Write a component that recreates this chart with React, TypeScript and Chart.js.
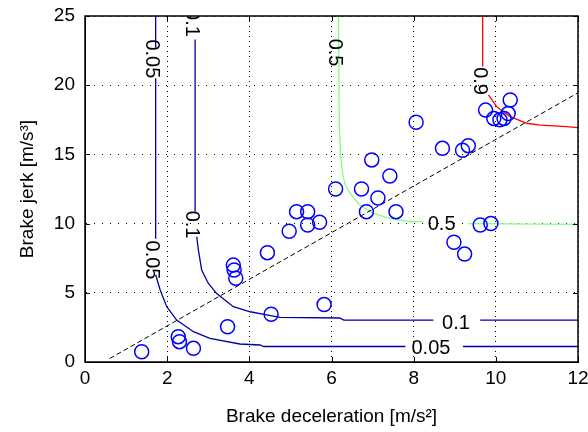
import React, { useEffect, useRef } from "react";
import { Chart, registerables } from "chart.js";

Chart.register(...registerables);

// ---- data ----
const xTickValues = [0, 2, 4, 6, 8, 10, 12];
const yTickValues = [0, 5, 10, 15, 20, 25];

const decel = [1.38, 2.27, 2.3, 2.64, 3.47, 3.61, 3.63, 3.67, 4.44, 4.53, 4.97, 5.15, 5.42, 5.42, 5.71, 5.82, 6.1, 6.73, 6.85, 6.98, 7.13, 7.42, 7.57, 8.06, 8.7, 9.19, 9.33, 8.98, 9.24, 9.62, 9.88, 9.75, 9.95, 10.1, 10.2, 10.3, 10.35];
const jerk = [0.74, 1.83, 1.47, 0.99, 2.55, 7.0, 6.65, 6.05, 7.9, 3.45, 9.45, 10.86, 10.86, 9.9, 10.1, 4.15, 12.5, 12.5, 10.86, 14.6, 11.85, 13.44, 10.86, 17.32, 15.44, 15.3, 15.63, 8.65, 7.8, 9.9, 10.0, 18.2, 17.6, 17.5, 17.6, 17.95, 18.93];

const trendX = [0.6, 12];
const trendY = [0.25, 19.45];

// contour 0.05 (segments broken at labels)
const c005a: number[][] = [[1.72, 25], [1.72, 22.7]];
const c005b: number[][] = [[1.72, 20.5], [1.72, 8.9]];
const c005c: number[][] = [[1.72, 6.3], [1.83, 5.2], [1.99, 4.0], [2.23, 3.03], [2.64, 2.19], [3.04, 1.71], [3.77, 1.3], [4.26, 1.23], [4.35, 1.12], [7.8, 1.12]];
const c005d: number[][] = [[9.2, 1.12], [12, 1.12]];
// contour 0.1
const c01a: number[][] = [[2.68, 23.3], [2.68, 10.86]];
const c01b: number[][] = [[2.72, 9.05], [2.76, 8.09], [2.84, 6.65], [3.0, 5.69], [3.2, 4.96], [3.61, 4.0], [4.02, 3.63], [4.42, 3.4], [4.75, 3.23], [6.2, 3.18], [6.3, 3.03], [8.48, 3.03]];
const c01c: number[][] = [[9.62, 3.03], [12, 3.03]];
// contour 0.5
const c05a: number[][] = [[6.17, 25], [6.19, 17.0], [6.22, 15.0], [6.27, 13.6], [6.33, 12.8], [6.45, 12.2], [6.69, 11.34], [7.02, 10.74], [7.42, 10.38], [7.91, 10.14], [8.24, 10.14]];
const c05b: number[][] = [[9.33, 10.0], [12, 9.95]];
// contour 0.9
const c09a: number[][] = [[9.68, 25], [9.68, 21.35]];
const c09b: number[][] = [[9.82, 19.3], [10.02, 18.45], [10.35, 17.73], [10.75, 17.25], [11.08, 17.12], [11.73, 17.0], [12, 16.93]];

const labelTexts = ["0.05", "0.05", "0.05", "0.1", "0.1", "0.1", "0.5", "0.5", "0.9"];
const labelX = [1.63, 1.62, 8.42, 2.6, 2.59, 9.03, 6.08, 8.68, 9.61];
const labelY = [21.9, 7.37, 1.0, 24.5, 9.93, 2.8, 22.36, 9.95, 20.3];
const labelVertical = [true, true, false, true, true, false, true, false, true];

// ---- styles ----
const FONT = "'Liberation Sans', Arial, sans-serif";
const DARK_BLUE = "rgb(0,0,165)";
const GREEN = "rgb(128,255,128)";
const RED = "rgb(255,0,0)";

const seg = (pts: number[][], color: string) => ({
  data: pts.map(([x, y]) => ({ x, y })),
  showLine: true,
  pointRadius: 0,
  pointHoverRadius: 0,
  borderColor: color,
  borderWidth: 1.3,
  fill: false,
  tension: 0,
});

const framePlugin = {
  id: "frame",
  afterDatasetsDraw(chart: any) {
    const { ctx, chartArea, scales } = chart;
    const { left, right, top, bottom } = chartArea;
    const xs = scales.x;
    const ys = scales.y;
    // contour labels
    ctx.save();
    ctx.beginPath();
    ctx.rect(left, top, right - left, bottom - top);
    ctx.clip();
    ctx.fillStyle = "#000";
    ctx.font = `20px ${FONT}`;
    ctx.textAlign = "center";
    ctx.textBaseline = "middle";
    for (let i = 0; i < labelTexts.length; i++) {
      const px = xs.getPixelForValue(labelX[i]);
      const py = ys.getPixelForValue(labelY[i]);
      ctx.save();
      ctx.translate(px, py);
      if (labelVertical[i]) ctx.rotate(Math.PI / 2);
      ctx.fillText(labelTexts[i], 0, 0);
      ctx.restore();
    }
    ctx.restore();
    // box and inward ticks
    ctx.save();
    ctx.strokeStyle = "#000";
    ctx.lineWidth = 1.5;
    ctx.strokeRect(left, top, right - left, bottom - top);
    ctx.lineWidth = 1;
    ctx.beginPath();
    for (const v of xTickValues) {
      const px = Math.round(xs.getPixelForValue(v)) + 0.5;
      ctx.moveTo(px, bottom);
      ctx.lineTo(px, bottom - 5);
      ctx.moveTo(px, top);
      ctx.lineTo(px, top + 5);
    }
    for (const v of yTickValues) {
      const py = Math.round(ys.getPixelForValue(v)) + 0.5;
      ctx.moveTo(left, py);
      ctx.lineTo(left + 5, py);
      ctx.moveTo(right, py);
      ctx.lineTo(right - 5, py);
    }
    ctx.stroke();
    ctx.restore();
  },
};

export default function App() {
  const ref = useRef<HTMLCanvasElement>(null);
  useEffect(() => {
    document.body.style.margin = "0";
    const chart = new Chart(ref.current as HTMLCanvasElement, {
      type: "scatter",
      data: {
        datasets: [
          {
            data: decel.map((x, i) => ({ x, y: jerk[i] })),
            showLine: false,
            pointStyle: "circle",
            pointRadius: 7,
            pointHoverRadius: 7,
            borderColor: "#0000ff",
            backgroundColor: "rgba(0,0,0,0)",
            borderWidth: 1.5,
          } as any,
          {
            data: trendX.map((x, i) => ({ x, y: trendY[i] })),
            showLine: true,
            pointRadius: 0,
            borderColor: "#000",
            borderWidth: 1,
            borderDash: [5, 3],
            fill: false,
          } as any,
          seg(c005a, DARK_BLUE),
          seg(c005b, DARK_BLUE),
          seg(c005c, DARK_BLUE),
          seg(c005d, DARK_BLUE),
          seg(c01a, DARK_BLUE),
          seg(c01b, DARK_BLUE),
          seg(c01c, DARK_BLUE),
          seg(c05a, GREEN),
          seg(c05b, GREEN),
          seg(c09a, RED),
          seg(c09b, RED),
        ],
      },
      options: {
        animation: false,
        responsive: false,
        devicePixelRatio: 1,
        events: [],
        layout: { padding: { top: 16, right: 10, left: 0, bottom: 0 } },
        plugins: { legend: { display: false }, tooltip: { enabled: false } },
        scales: {
          x: {
            type: "linear",
            min: 0,
            max: 12,
            afterBuildTicks: (s: any) => {
              s.ticks = xTickValues.map((v) => ({ value: v }));
            },
            afterFit: (s: any) => {
              s.height = 70;
              s.paddingLeft = 0;
              s.paddingRight = 0;
            },
            ticks: { color: "#000", font: { family: FONT, size: 19 }, padding: 5, maxRotation: 0, autoSkip: false },
            grid: { color: "#000", lineWidth: 1, drawTicks: false },
            border: { display: true, color: "#000", width: 1, dash: [1, 4] },
            title: {
              display: true,
              text: "Brake deceleration [m/s²]",
              color: "#000",
              font: { family: FONT, size: 19 },
              padding: { top: 0, bottom: 4 },
            },
          },
          y: {
            type: "linear",
            min: 0,
            max: 25,
            afterBuildTicks: (s: any) => {
              s.ticks = yTickValues.map((v) => ({ value: v }));
            },
            afterFit: (s: any) => {
              s.width = 85;
              s.paddingTop = 0;
              s.paddingBottom = 0;
            },
            ticks: { color: "#000", font: { family: FONT, size: 19 }, padding: 10, autoSkip: false },
            grid: { color: "#000", lineWidth: 1, drawTicks: false },
            border: { display: true, color: "#000", width: 1, dash: [1, 7] },
            title: {
              display: true,
              text: "Brake jerk [m/s³]",
              color: "#000",
              font: { family: FONT, size: 19 },
              padding: { top: 16, bottom: 0 },
            },
          },
        },
      } as any,
      plugins: [framePlugin],
    });
    return () => chart.destroy();
  }, []);
  return (
    <div style={{ width: 588, height: 432 }}>
      <canvas ref={ref} width={588} height={432} style={{ display: "block" }} />
    </div>
  );
}
